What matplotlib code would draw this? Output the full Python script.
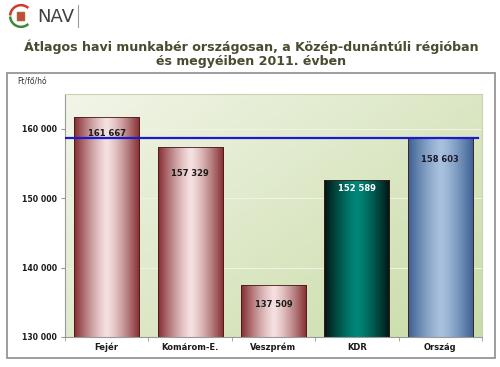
import matplotlib.pyplot as plt
import matplotlib.patches as mpatches
from matplotlib.colors import LinearSegmentedColormap
from matplotlib.ticker import FuncFormatter
import numpy as np

# --- adatok ---
categories = ['Fejér', 'Komárom-E.', 'Veszprém', 'KDR', 'Ország']
values = [161667, 157329, 137509, 152589, 158603]
national_avg = 158603
y_ticks = [130000, 140000, 150000, 160000]
y_lim = (130000, 165000)
unit_label = 'Ft/fő/hó'
title = 'Átlagos havi munkabér országosan, a Közép-dunántúli régióban\nés megyéiben 2011. évben'

# hengeres színátmenetek (szél, közép)
bar_gradients = [
    ['#842c30', '#f5e0e0'],
    ['#842c30', '#f5e0e0'],
    ['#842c30', '#f5e0e0'],
    ['#001512', '#00877a'],
    ['#3a5f92', '#a9c1de'],
]
label_colors = ['#1a1a1a', '#1a1a1a', '#1a1a1a', 'white', '#1a1a2a']
label_offsets = [16, 26, 20, 8, 21]  # px a hasáb tetejétől

fig = plt.figure(figsize=(5.0, 3.67), dpi=100)

# külső keret
frame = mpatches.Rectangle((7 / 500, 1 - 358 / 367), 488 / 500, 285 / 367,
                           transform=fig.transFigure, facecolor='white',
                           edgecolor='#8c8c8c', linewidth=1.2, zorder=-5)
fig.add_artist(frame)

# logó
lax = fig.add_axes([8 / 500, 1 - 30 / 367, 26 / 500, 28 / 367])
lax.set_xlim(-1.2, 1.2)
lax.set_ylim(-1.2, 1.2)
lax.set_aspect('equal')
lax.axis('off')
t = np.linspace(0.3 * np.pi, 0.95 * np.pi, 30)
lax.plot(np.cos(t), np.sin(t), color='#d23a2a', lw=1.8)
t = np.linspace(1.05 * np.pi, 1.7 * np.pi, 30)
lax.plot(np.cos(t), np.sin(t), color='#3a8a3a', lw=1.8)
lax.add_patch(mpatches.FancyBboxPatch((-0.3, -0.4), 0.6, 0.7, boxstyle='round,pad=0.05',
                                      facecolor='#c84a3a', edgecolor='#8a6a2a', lw=0.6))
fig.text(37 / 500, 1 - 17 / 367, 'NAV', fontsize=13, color='#404040', va='center', ha='left')
fig.add_artist(plt.Line2D([78 / 500, 78 / 500], [1 - 5 / 367, 1 - 27 / 367],
                          transform=fig.transFigure, color='#9a9a9a', lw=0.8))

fig.text(0.502, 1 - 54 / 367, title, ha='center', va='center', fontsize=9.1,
         fontweight='bold', color='#4b4b30', linespacing=1.05)

ax = fig.add_axes([65 / 500, 30 / 367, 417 / 500, 243 / 367])
ax.set_zorder(1)

# háttér színátmenet
bg = LinearSegmentedColormap.from_list('bg', ['#f2f5e8', '#c9dca8'])
gx, gy = np.meshgrid(np.linspace(0, 1, 100), np.linspace(0, 1, 100))
ax.imshow(0.55 * gx + 0.45 * gy, cmap=bg, extent=[-0.5, len(categories) - 0.5, y_lim[0], y_lim[1]],
          aspect='auto', origin='upper', zorder=0)

for yv in y_ticks[1:]:
    ax.axhline(yv, color='#eef3e2', lw=0.8, zorder=1)

x = np.arange(len(categories))
bars = ax.bar(x, values, width=0.78, bottom=0, color='none', edgecolor='#4a1818', lw=0.6, zorder=3)
grad = np.linspace(0, 1, 200)
shape = np.abs(grad - 0.5) * 2
for b, cols in zip(bars, bar_gradients):
    cmap = LinearSegmentedColormap.from_list('c', [cols[1], cols[0]])
    x0, w, h = b.get_x(), b.get_width(), b.get_height()
    im = ax.imshow(shape[None, :] ** 1.3, cmap=cmap, vmin=0, vmax=1,
                   extent=[x0, x0 + w, y_lim[0], h], aspect='auto', zorder=2)
    im.set_clip_path(b)

ax.set_xlim(-0.5, len(categories) - 0.5)
ax.set_ylim(*y_lim)

ax.axhline(national_avg, xmin=0, xmax=0.99, color='#1a1ad0', lw=1.6, zorder=4)

for b, v, c, off in zip(bars, values, label_colors, label_offsets):
    ax.annotate(f'{v:,}'.replace(',', ' '), (b.get_x() + b.get_width() / 2, v),
                xytext=(0, -off), textcoords='offset pixels', ha='center', va='center',
                fontsize=6, fontweight='bold', color=c, zorder=5)

ax.set_yticks(y_ticks)
ax.yaxis.set_major_formatter(FuncFormatter(lambda v, p: f'{int(v):,}'.replace(',', ' ')))
ax.set_xticks(x)
ax.set_xticklabels(categories)
ax.set_xticks(np.arange(-0.5, len(categories)), minor=True)
ax.tick_params(axis='x', which='major', length=0, pad=4)
ax.tick_params(axis='x', which='minor', length=3, color='#999999')
ax.tick_params(axis='y', length=3, color='#999999', pad=3)
for lbl in ax.get_xticklabels():
    lbl.set_fontsize(6)
    lbl.set_fontweight('bold')
    lbl.set_color('#1a1a1a')
for lbl in ax.get_yticklabels():
    lbl.set_fontsize(5.6)
    lbl.set_fontweight('bold')
    lbl.set_color('#1a1a1a')
for s in ax.spines.values():
    s.set_color('#c8d4b0')
    s.set_linewidth(0.8)
ax.spines['bottom'].set_color('#999999')
ax.spines['left'].set_color('#999999')

fig.text(17 / 500, 1 - 82 / 367, unit_label, fontsize=5.5, color='#333333', va='center')

fig.savefig('out.png', dpi=100)
